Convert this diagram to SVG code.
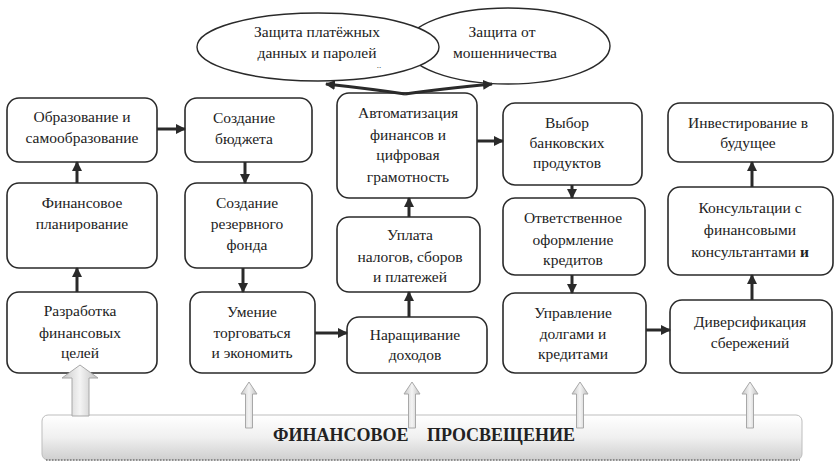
<svg xmlns="http://www.w3.org/2000/svg" width="839" height="470" viewBox="0 0 839 470" font-family="Liberation Serif, serif">
<style>
.box{fill:#fff;stroke:#2a2a2a;stroke-width:1.6}
.ell{fill:#fff;stroke:#2a2a2a;stroke-width:1.4}
.t{font-size:15.5px;fill:#222;text-anchor:middle}
.c{fill:none;stroke:#2a2a2a;stroke-width:3;marker-end:url(#ah)}
.blk{fill:url(#bg);stroke:#a8a8a8;stroke-width:1}
.title{font-size:18px;font-weight:bold;fill:#222}
</style>
<defs>
<marker id="ah" markerUnits="userSpaceOnUse" markerWidth="10" markerHeight="10" refX="9" refY="5" orient="auto">
<path d="M0,0 L10,5 L0,10 z" fill="#2a2a2a"/>
</marker>
<linearGradient id="bar" x1="0" y1="0" x2="0" y2="1">
<stop offset="0" stop-color="#ffffff"/>
<stop offset="0.5" stop-color="#f0f0f0"/>
<stop offset="1" stop-color="#cfcfcf"/>
</linearGradient>
<linearGradient id="bg" x1="0" y1="0" x2="1" y2="0">
<stop offset="0" stop-color="#c8c8c8"/>
<stop offset="0.5" stop-color="#f4f4f4"/>
<stop offset="1" stop-color="#c0c0c0"/>
</linearGradient>
</defs>
<rect width="839" height="470" fill="#fff"/>

<g id="ell-fraud">
<ellipse class="ell" cx="508" cy="46" rx="102" ry="38"/>
<text class="t" font-family="Liberation Serif" x="502" y="37">Защита от</text>
<text class="t" font-family="Liberation Serif" x="505" y="58">мошенничества</text>
</g>
<g id="ell-pay">
<ellipse class="ell" cx="318" cy="47" rx="121" ry="34"/>
<text class="t" font-family="Liberation Serif" x="317" y="37">Защита платёжных</text>
<text class="t" font-family="Liberation Serif" x="317" y="58">данных и паролей</text>
<text class="t" font-family="Liberation Serif" x="379" y="68" style="font-size:9px">..</text>
</g>

<g id="bar-fin">
<rect x="42" y="415" width="760" height="45" rx="6" fill="url(#bar)" stroke="#bdbdbd" stroke-width="1"/>
<line x1="46" y1="460" x2="800" y2="460" stroke="#777" stroke-width="1.5" stroke-dasharray="1.5,1.5"/>
<text class="title" font-family="Liberation Serif" x="273" y="441">ФИНАНСОВОЕ</text>
<text class="title" font-family="Liberation Serif" x="427" y="441">ПРОСВЕЩЕНИЕ</text>
</g>

<g id="n1"><rect class="box" x="7" y="98" width="150" height="64" rx="12"/>
<text class="t" font-family="Liberation Serif" x="82" y="122">Образование и</text><text class="t" font-family="Liberation Serif" x="82" y="143">самообразование</text></g>
<g id="n2"><rect class="box" x="7" y="183" width="150" height="85" rx="12"/>
<text class="t" font-family="Liberation Serif" x="82" y="208">Финансовое</text><text class="t" font-family="Liberation Serif" x="82" y="229">планирование</text></g>
<g id="n3"><rect class="box" x="7" y="292" width="150" height="81" rx="12"/>
<text class="t" font-family="Liberation Serif" x="80" y="316">Разработка</text><text class="t" font-family="Liberation Serif" x="80" y="338">финансовых</text><text class="t" font-family="Liberation Serif" x="80" y="358">целей</text></g>

<g id="n4"><rect class="box" x="185" y="98" width="127" height="64" rx="12"/>
<text class="t" font-family="Liberation Serif" x="244" y="123">Создание</text><text class="t" font-family="Liberation Serif" x="244" y="144">бюджета</text></g>
<g id="n5"><rect class="box" x="185" y="183" width="127" height="85" rx="12"/>
<text class="t" font-family="Liberation Serif" x="247" y="208">Создание</text><text class="t" font-family="Liberation Serif" x="247" y="229">резервного</text><text class="t" font-family="Liberation Serif" x="247" y="250">фонда</text></g>
<g id="n6"><rect class="box" x="190" y="292" width="125" height="81" rx="12"/>
<text class="t" font-family="Liberation Serif" x="252" y="317">Умение</text><text class="t" font-family="Liberation Serif" x="252" y="338">торговаться</text><text class="t" font-family="Liberation Serif" x="252" y="358">и экономить</text></g>

<g id="n7"><rect class="box" x="337" y="93" width="140" height="105" rx="12"/>
<text class="t" font-family="Liberation Serif" x="408" y="118">Автоматизация</text><text class="t" font-family="Liberation Serif" x="408" y="140">финансов и</text><text class="t" font-family="Liberation Serif" x="408" y="160">цифровая</text><text class="t" font-family="Liberation Serif" x="408" y="182">грамотность</text></g>
<g id="n8"><rect class="box" x="337" y="217" width="143" height="75" rx="12"/>
<text class="t" font-family="Liberation Serif" x="410" y="240">Уплата</text><text class="t" font-family="Liberation Serif" x="410" y="262">налогов, сборов</text><text class="t" font-family="Liberation Serif" x="410" y="282">и платежей</text></g>
<g id="n9"><rect class="box" x="347" y="317" width="140" height="56" rx="12"/>
<text class="t" font-family="Liberation Serif" x="415" y="340">Наращивание</text><text class="t" font-family="Liberation Serif" x="415" y="360">доходов</text></g>

<g id="n10"><rect class="box" x="503" y="103" width="139" height="82" rx="12"/>
<text class="t" font-family="Liberation Serif" x="567" y="128">Выбор</text><text class="t" font-family="Liberation Serif" x="567" y="148">банковских</text><text class="t" font-family="Liberation Serif" x="567" y="168">продуктов</text></g>
<g id="n11"><rect class="box" x="503" y="198" width="142" height="77" rx="12"/>
<text class="t" font-family="Liberation Serif" x="573" y="223">Ответственное</text><text class="t" font-family="Liberation Serif" x="573" y="245">оформление</text><text class="t" font-family="Liberation Serif" x="573" y="265">кредитов</text></g>
<g id="n12"><rect class="box" x="503" y="293" width="143" height="80" rx="12"/>
<text class="t" font-family="Liberation Serif" x="573" y="318">Управление</text><text class="t" font-family="Liberation Serif" x="573" y="339">долгами и</text><text class="t" font-family="Liberation Serif" x="573" y="359">кредитами</text></g>

<g id="n13"><rect class="box" x="668" y="103" width="165" height="59" rx="12"/>
<text class="t" font-family="Liberation Serif" x="748" y="128">Инвестирование в</text><text class="t" font-family="Liberation Serif" x="748" y="148">будущее</text></g>
<g id="n14"><rect class="box" x="668" y="187" width="165" height="88" rx="12"/>
<text class="t" font-family="Liberation Serif" x="750" y="213">Консультации с</text><text class="t" font-family="Liberation Serif" x="750" y="235">финансовыми</text><text class="t" font-family="Liberation Serif" x="750" y="257">консультантами <tspan font-weight="bold">и</tspan></text></g>
<g id="n15"><rect class="box" x="670" y="300" width="162" height="73" rx="12"/>
<text class="t" font-family="Liberation Serif" x="750" y="327">Диверсификация</text><text class="t" font-family="Liberation Serif" x="750" y="348">сбережений</text></g>

<g id="block-arrows">
<path class="blk" d="M80,365 L98,378 L89,378 L89,416 L72,416 L72,378 L62,378 Z"/>
<path class="blk" d="M249,382 L257,394 L252.5,394 L252.5,428 L245.5,428 L245.5,394 L241,394 Z"/>
<path class="blk" d="M412,382 L420,394 L415.5,394 L415.5,428 L408.5,428 L408.5,394 L404,394 Z"/>
<path class="blk" d="M580,382 L588,394 L583.5,394 L583.5,428 L576.5,428 L576.5,394 L572,394 Z"/>
<path class="blk" d="M750,382 L758,394 L753.5,394 L753.5,428 L746.5,428 L746.5,394 L742,394 Z"/>
</g>

<g id="connectors">
<path class="c" d="M405,94 Q372,89 326,84"/>
<path class="c" d="M405,94 Q440,89 492,84"/>
<path class="c" d="M157,129 L185,129"/>
<path class="c" d="M77,183 L77,162"/>
<path class="c" d="M77,292 L77,268"/>
<path class="c" d="M245,162 L245,183"/>
<path class="c" d="M243,268 L243,292"/>
<path class="c" d="M315,333 L347,333"/>
<path class="c" d="M409,317 L409,292"/>
<path class="c" d="M409,217 L409,198"/>
<path class="c" d="M477,141 L503,141"/>
<path class="c" d="M572,185 L572,198"/>
<path class="c" d="M572,275 L572,293"/>
<path class="c" d="M646,330 L670,330"/>
<path class="c" d="M752,300 L752,275"/>
<path class="c" d="M752,187 L752,162"/>
</g>
</svg>
